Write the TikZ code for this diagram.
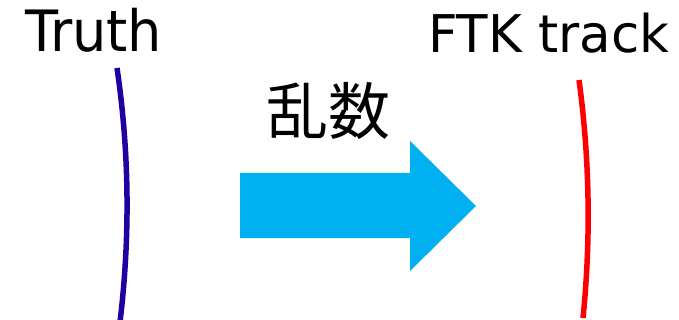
\documentclass[tikz,border=0pt]{standalone}
\usepackage{fontspec}
\newfontfamily\latinfontA[FakeStretch=0.95]{DejaVu Sans}
\newfontfamily\latinfontB[FakeStretch=0.99]{DejaVu Sans}
\newfontfamily\cjk{Noto Sans CJK JP}
\definecolor{truthblue}{RGB}{32,0,160}
\definecolor{arrowcyan}{RGB}{0,176,240}
\begin{document}
\begin{tikzpicture}[x=1pt,y=-1pt,
  lbl/.style={inner sep=0pt,outer sep=0pt,anchor=base west},
  trackline/.style={line width=5.5pt}]
\useasboundingbox (0,0) rectangle (679,320);
\node[lbl,font=\latinfontA\fontsize{57}{60}\selectfont] (truth) at (25,52) {Truth};
\node[lbl,font=\latinfontB\fontsize{52}{56}\selectfont] (ftk) at (428,53) {FTK track};
\node[inner sep=0pt,font=\cjk\fontsize{62}{64}\selectfont] (rand) at (328.5,111) {乱数};
\coordinate (bt) at (117,68);
\coordinate (bb) at (120,322);
\coordinate (rt) at (579,80);
\coordinate (rb) at (583,318);
\draw[trackline,truthblue] (bt) .. controls (129.3,152) and (130.3,236) .. (bb);
\draw[trackline,red] (rt) .. controls (589.7,159.3) and (591,238.7) .. (rb);
\fill[arrowcyan] (240,173) -- (410,173) -- (410,141) -- (476,206) -- (410,271) -- (410,238) -- (240,238) -- cycle;
\end{tikzpicture}
\end{document}
